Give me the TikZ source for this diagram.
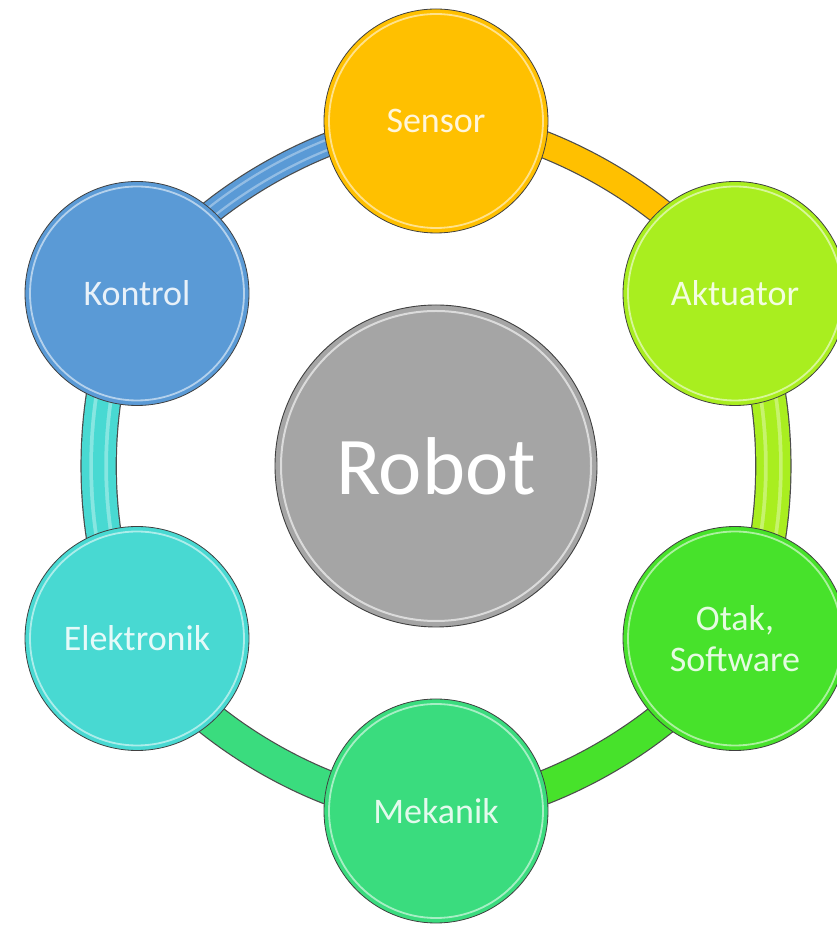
\documentclass[tikz,border=0pt]{standalone}
\usepackage{fontspec}
\setmainfont{Carlito}
\pgfdeclarelayer{paper}
\pgfdeclarelayer{bg}
\pgfsetlayers{paper,bg,main}
\definecolor{sensC}{HTML}{FFC000}
\definecolor{aktC}{HTML}{A9EE1F}
\definecolor{otakC}{HTML}{47E22B}
\definecolor{mekC}{HTML}{3ADC7E}
\definecolor{elekC}{HTML}{48D9D2}
\definecolor{kontC}{HTML}{5A9AD6}
\definecolor{robC}{HTML}{A5A5A5}
\tikzset{
  ball/.style={circle, draw=black!75, line width=0.8pt, inner sep=0pt,
    minimum size=224pt, align=center,
    font=\fontsize{36}{41}\selectfont,
    fill=#1, text=white!86!#1,
    path picture={\draw[white, opacity=.55, line width=1.8pt]
      (path picture bounding box.center) circle[radius=107pt];}},
  hub/.style={circle, draw=black!75, line width=0.9pt, inner sep=0pt,
    minimum size=322pt, fill=robC, text=white,
    font=\fontsize{82}{90}\selectfont,
    path picture={\draw[white, opacity=.6, line width=2pt]
      (path picture bounding box.center) circle[radius=155pt];}},
  flatlink/.style 2 args={line width=#2, draw=#1,
    preaction={draw=black!70, line width=#2+2.4pt}},
  link/.style 2 args={flatlink={#1}{#2},
    postaction={draw=white, opacity=.35, line width=0.55*#2},
    postaction={draw=#1, line width=0.33*#2}},
  arcbend/.style={bend left=30, looseness=.76}
}
\begin{document}
\begin{tikzpicture}[x=1pt,y=1pt]
\useasboundingbox (0,0) rectangle (836,929);
\begin{pgfonlayer}{paper}
\fill[white] (0,0) rectangle (836,929);
\end{pgfonlayer}
\node[hub] (robot) at (436,463) {Robot};
\node[ball=sensC] (sensor) at (436,808) {Sensor};
\node[ball=aktC] (aktuator) at (735,635.5) {Aktuator};
\node[ball=otakC] (otak) at (735,290.5) {Otak,\\Software};
\node[ball=mekC] (mekanik) at (436,118) {Mekanik};
\node[ball=elekC] (elektronik) at (137,290.5) {Elektronik};
\node[ball=kontC] (kontrol) at (137,635.5) {Kontrol};
\begin{pgfonlayer}{bg}
\draw[link={kontC}{22pt}] (kontrol.center) to[arcbend] (sensor.center);
\draw[flatlink={sensC}{25pt}] (sensor.center) to[arcbend] (aktuator.center);
\draw[link={aktC}{34pt}] (aktuator.center) to[arcbend] (otak.center);
\draw[flatlink={otakC}{32pt}] (otak.center) to[arcbend] (mekanik.center);
\draw[flatlink={mekC}{32pt}] (mekanik.center) to[arcbend] (elektronik.center);
\draw[link={elekC}{34pt}] (elektronik.center) to[arcbend] (kontrol.center);
\end{pgfonlayer}
\end{tikzpicture}
\end{document}
